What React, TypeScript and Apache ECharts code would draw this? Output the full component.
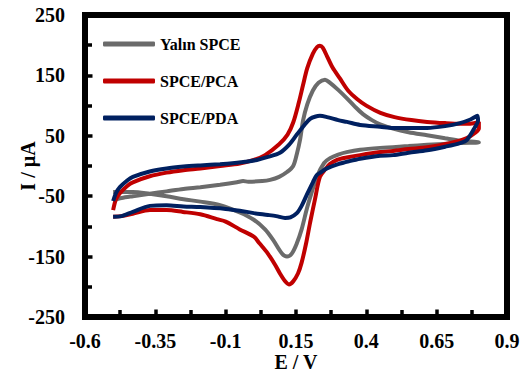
import React, { useEffect, useRef } from "react";
import * as echarts from "echarts";

const seriesNames = ["Yalın SPCE", "SPCE/PCA", "SPCE/PDA"];
const seriesColors = ["#6b6b6b", "#c00000", "#002060"];

// Yalın SPCE: forward (anodic) sweep then reverse sweep, [E (V), I (µA)]
const bareSPCE: number[][] = [
  [-0.5, -57], [-0.47, -53], [-0.43, -50], [-0.37, -46], [-0.31, -42], [-0.25, -38],
  [-0.19, -35], [-0.12, -31], [-0.06, -27], [-0.038, -25], [-0.02, -26], [0.03, -25],
  [0.058, -23], [0.09, -18], [0.118, -10], [0.14, 0], [0.153, 20], [0.165, 45],
  [0.175, 75], [0.19, 102], [0.21, 125], [0.23, 138], [0.253, 143], [0.27, 138],
  [0.3, 126], [0.331, 112], [0.36, 98], [0.388, 86], [0.42, 76], [0.449, 69],
  [0.495, 62], [0.55, 56], [0.616, 51], [0.68, 46], [0.733, 42], [0.8, 39],
  [0.733, 38], [0.616, 35], [0.55, 33], [0.449, 30], [0.378, 27], [0.33, 23],
  [0.3, 19], [0.271, 13], [0.25, 5], [0.224, -18], [0.205, -45], [0.189, -70],
  [0.17, -105], [0.153, -128], [0.135, -145], [0.118, -150], [0.1, -145], [0.068, -122],
  [0.04, -105], [0.0, -89], [-0.05, -77], [-0.12, -65], [-0.19, -59], [-0.25, -55],
  [-0.31, -50], [-0.37, -46], [-0.43, -43], [-0.5, -43],
];

// SPCE/PCA
const pcaSPCE: number[][] = [
  [-0.5, -73], [-0.49, -55], [-0.476, -45], [-0.45, -33], [-0.43, -27], [-0.37, -17],
  [-0.31, -11], [-0.25, -7], [-0.19, -4], [-0.12, 0], [-0.05, 4], [0.0, 10],
  [0.04, 18], [0.09, 36], [0.12, 52], [0.14, 72], [0.16, 105], [0.175, 134],
  [0.19, 162], [0.21, 186], [0.225, 197], [0.235, 199], [0.245, 196], [0.26, 182],
  [0.28, 163], [0.306, 145], [0.335, 125], [0.367, 111], [0.4, 100], [0.45, 88],
  [0.5, 81], [0.56, 76], [0.616, 73], [0.68, 71], [0.733, 70], [0.77, 70], [0.8, 73],
  [0.8, 62], [0.787, 55], [0.757, 46], [0.7, 38], [0.616, 31], [0.55, 28],
  [0.495, 25], [0.45, 23], [0.378, 18], [0.33, 14], [0.296, 10], [0.27, 3],
  [0.255, -5], [0.235, -18], [0.217, -56], [0.2, -94], [0.185, -130], [0.17, -160],
  [0.157, -178], [0.14, -191], [0.125, -196], [0.11, -190], [0.093, -178], [0.075, -163],
  [0.05, -145], [0.02, -128], [0.0, -117], [-0.05, -105], [-0.1, -92], [-0.131, -88],
  [-0.19, -80], [-0.252, -76], [-0.31, -73], [-0.369, -73], [-0.43, -79], [-0.47, -83],
  [-0.5, -84],
];

// SPCE/PDA
const pdaSPCE: number[][] = [
  [-0.5, -58], [-0.49, -45], [-0.476, -35], [-0.45, -24], [-0.43, -18], [-0.37, -9],
  [-0.31, -4], [-0.25, -1], [-0.19, 1], [-0.12, 3], [-0.085, 4], [-0.03, 7],
  [0.011, 10], [0.05, 15], [0.093, 22], [0.125, 35], [0.153, 52], [0.18, 68],
  [0.2, 78], [0.22, 82], [0.235, 83], [0.26, 81], [0.3, 76], [0.331, 73],
  [0.378, 68], [0.449, 65], [0.495, 63], [0.616, 63], [0.68, 66], [0.733, 71],
  [0.77, 77], [0.795, 83], [0.797, 75], [0.787, 65], [0.757, 43], [0.733, 38],
  [0.68, 32], [0.616, 26], [0.55, 22], [0.495, 18], [0.449, 17], [0.378, 12],
  [0.34, 8], [0.3, 3], [0.26, -4], [0.24, -10], [0.224, -15], [0.21, -27],
  [0.189, -47], [0.17, -66], [0.153, -78], [0.13, -85], [0.111, -86], [0.08, -83],
  [0.05, -81], [0.0, -78], [-0.05, -74], [-0.1, -71], [-0.19, -68], [-0.25, -67],
  [-0.31, -65], [-0.369, -66], [-0.43, -76], [-0.47, -83], [-0.5, -84],
];

const xTicks = { min: -0.6, max: 0.9, interval: 0.25 };
const yTicks = { min: -250, max: 250, interval: 100 };

const FONT = '"Liberation Serif", "Times New Roman", serif';

const GRID = { left: 85, right: 18, top: 15, bottom: 60 };
const W = 525;
const H = 377;
const FRAME_W = 6;

export default function App() {
  const ref = useRef<HTMLDivElement>(null);

  useEffect(() => {
    if (!ref.current) return;
    const chart = echarts.init(ref.current, undefined, { renderer: "svg" });
    const dataSets = [bareSPCE, pcaSPCE, pdaSPCE];
    const labelStyle = { color: "#000", fontFamily: FONT, fontWeight: "bold", fontSize: 20 };
    const nameStyle = { color: "#000", fontFamily: FONT, fontWeight: "bold", fontSize: 20 };
    const mkAxis = (extra: any) => ({
      type: "value",
      axisLine: { show: true, onZero: false, lineStyle: { color: "#000", width: FRAME_W } },
      axisTick: { show: true, inside: true, length: 7.5, lineStyle: { color: "#000", width: 3.5 } },
      minorTick: { show: true, splitNumber: 2, length: 7, lineStyle: { color: "#000", width: 3.5 } },
      splitLine: { show: false },
      minorSplitLine: { show: false },
      nameTextStyle: nameStyle,
      nameLocation: "middle",
      nameMoveOverlap: false,
      ...extra,
    });
    chart.setOption({
      animation: false,
      backgroundColor: "#fff",
      grid: {
        ...GRID,
        outerBoundsMode: "none",
        containLabel: false,
        show: false,
      },
      graphic: [
        {
          type: "rect",
          silent: true,
          z: 100,
          shape: { x: GRID.left, y: GRID.top, width: W - GRID.left - GRID.right, height: H - GRID.top - GRID.bottom },
          style: { fill: "none", stroke: "#000", lineWidth: FRAME_W, lineJoin: "miter" },
        },
      ],
      legend: {
        data: seriesNames,
        orient: "vertical",
        left: 103,
        top: 35,
        padding: 0,
        icon: "roundRect",
        itemWidth: 52,
        itemHeight: 5,
        itemGap: 19,
        textStyle: { color: "#000", fontFamily: FONT, fontWeight: "bold", fontSize: 16, lineHeight: 18 },
      },
      xAxis: mkAxis({
        ...xTicks,
        name: "E / V",
        nameGap: 35,
        axisLabel: { ...labelStyle, margin: 14, formatter: (v: number) => String(Math.round(v * 100) / 100) },
      }),
      yAxis: mkAxis({
        ...yTicks,
        name: "I / µA",
        nameGap: 47,
        axisLabel: { ...labelStyle, margin: 20 },
      }),
      series: dataSets.map((d, i) => ({
        name: seriesNames[i],
        type: "line",
        data: d,
        symbol: "none",
        smooth: 0.3,
        color: seriesColors[i],
        lineStyle: { color: seriesColors[i], width: 4 },
        z: 2 + i,
      })),
    });
    return () => chart.dispose();
  }, []);

  return (
    <div
      ref={ref}
      style={{ position: "fixed", left: 0, top: 0, width: W, height: H, background: "#fff" }}
    />
  );
}
